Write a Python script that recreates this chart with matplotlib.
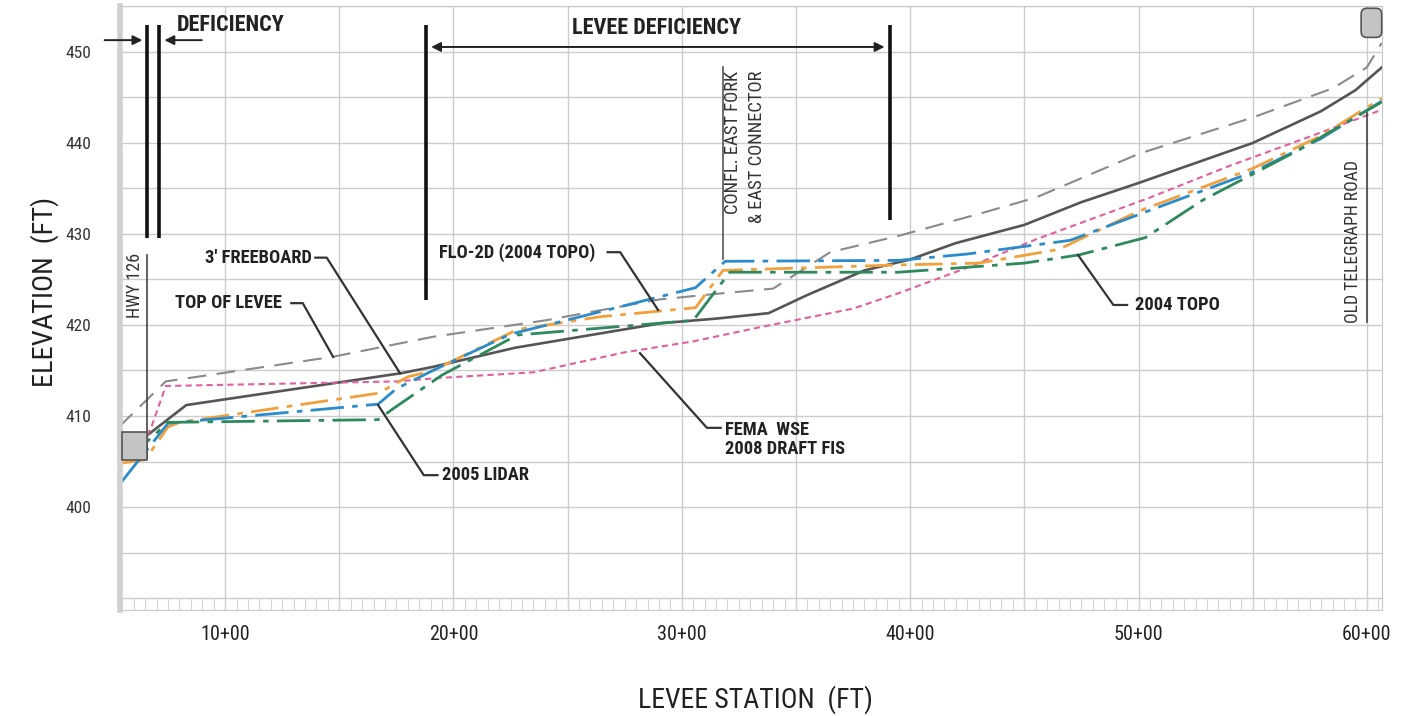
import matplotlib
matplotlib.use('Agg')
import matplotlib.pyplot as plt
import matplotlib.patches as mpatches
import numpy as np

plt.rcParams['font.family'] = ['Roboto Condensed', 'DejaVu Sans']

# stations are in hundreds of feet (10 -> 10+00), elevations in feet
tol_sta = [5.35, 7.4, 14.7, 19.1, 24.0, 29.0, 31.0, 34.0, 36.5, 39.5, 43.0, 45.5, 50.0, 55.0, 58.5, 60.0, 60.65]
tol_elev = [408.8, 413.8, 416.5, 418.7, 420.5, 422.8, 423.3, 424.0, 428.0, 429.8, 432.2, 434.0, 438.8, 442.8, 446.0, 448.3, 451.0]

fema_sta = [5.4, 6.5, 8.3, 17.7, 19.1, 22.7, 29.1, 31.5, 33.8, 35.5, 38.0, 40.0, 42.0, 45.0, 47.5, 50.0, 55.0, 58.0, 59.5, 60.65]
fema_elev = [405.5, 407.7, 411.2, 414.7, 415.4, 417.5, 420.2, 420.7, 421.3, 423.3, 426.0, 427.2, 429.0, 431.0, 433.5, 435.6, 440.0, 443.5, 445.8, 448.3]

fb_sta = [6.4, 6.8, 7.4, 17.5, 19.5, 23.5, 27.5, 30.5, 33.5, 37.5, 39.5, 42.5, 45.5, 50.5, 54.0, 57.5, 60.6]
fb_elev = [406.8, 409.0, 413.3, 413.8, 414.2, 414.8, 417.0, 418.2, 419.8, 421.8, 423.5, 426.3, 429.4, 434.0, 437.5, 440.7, 443.6]

flo_sta = [5.4, 6.5, 7.5, 8.0, 16.7, 18.0, 19.1, 22.8, 26.4, 30.6, 31.8, 39.5, 43.0, 46.5, 50.0, 55.0, 58.0, 60.65]
flo_elev = [404.8, 405.2, 408.8, 409.3, 412.5, 414.3, 415.0, 419.5, 420.9, 421.9, 426.0, 426.6, 426.8, 428.3, 432.5, 437.2, 440.8, 444.9]

lidar_sta = [5.35, 7.5, 16.7, 17.5, 19.1, 22.5, 26.5, 30.6, 31.9, 39.5, 42.5, 45.5, 47.0, 50.5, 55.0, 58.0, 60.65]
lidar_elev = [402.4, 409.2, 411.3, 413.0, 415.0, 419.0, 421.5, 424.1, 427.0, 427.1, 427.8, 428.8, 429.3, 432.6, 436.8, 440.5, 444.6]

topo_sta = [5.4, 6.5, 7.5, 16.7, 17.3, 19.5, 22.8, 30.5, 32.1, 39.5, 45.0, 47.4, 50.3, 52.8, 57.0, 60.65]
topo_elev = [406.0, 407.0, 409.3, 409.6, 410.7, 414.5, 418.9, 420.5, 425.8, 425.8, 426.8, 427.7, 429.6, 433.7, 439.2, 444.5]

x_ticks = [10, 20, 30, 40, 50, 60]
x_labels = ['10+00', '20+00', '30+00', '40+00', '50+00', '60+00']
y_ticks = [400, 410, 420, 430, 440, 450]

fig = plt.figure(figsize=(14.21, 7.16), dpi=100)
ax = fig.add_axes([0.0845, 0.148, 0.888, 0.8436])
ax.set_xlim(5.40, 60.66)
ax.set_ylim(388.68, 455.05)

ax.set_xticks(x_ticks)
ax.set_xticklabels(x_labels, fontsize=14.5, color='#222222')
ax.set_xticks(np.arange(15, 60, 10), minor=True)
ax.set_yticks(y_ticks)
ax.set_yticklabels([str(v) for v in y_ticks], fontsize=12.5, color='#333333')
ax.set_yticks(np.arange(390, 456, 5), minor=True)
ax.tick_params(which='both', length=0)
ax.tick_params(axis='y', pad=21)
ax.tick_params(axis='x', pad=11)
ax.grid(which='both', color='#cccccc', lw=1)
ax.set_axisbelow(True)
for side in ['top', 'right', 'bottom']:
    ax.spines[side].set_color('#c8c8c8')
ax.spines['left'].set_color('#d0d0d0')
ax.spines['left'].set_linewidth(4)

# ruler strip along the bottom
ax.vlines(np.arange(5.5, 60.7, 0.5), 388.68, 390, color='#d4d4d4', lw=0.8)

# series
ax.plot(tol_sta, tol_elev, color='#8a8a8a', lw=1.5, dashes=(9, 5))
ax.plot(fema_sta, fema_elev, color='#555555', lw=1.9)
ax.plot(fb_sta, fb_elev, color='#e25f9f', lw=1.5, dashes=(3, 2))
ax.plot(flo_sta, flo_elev, color='#f2a03c', lw=2.0, dashes=(10, 3, 2, 3))
ax.plot(lidar_sta, lidar_elev, color='#2b8ccc', lw=2.0, dashes=(12, 3, 2, 3))
ax.plot(topo_sta, topo_elev, color='#2e8a5c', lw=2.0, dashes=(12, 3, 2, 3))

# structures at the ends
ax.add_patch(mpatches.Rectangle((5.49, 405.2), 1.09, 3.0, facecolor='#c4c4c4',
                                edgecolor='#555555', lw=1.2, zorder=3))
ax.add_patch(mpatches.FancyBboxPatch((59.75, 451.6), 0.9, 3.2,
                                     boxstyle='round,pad=0,rounding_size=0.25',
                                     mutation_aspect=2.5, facecolor='#c4c4c4',
                                     edgecolor='#555555', lw=1.2, zorder=3, clip_on=False))

# deficiency markers
for s, top, bot in [(6.6, 453.0, 429.6), (7.1, 453.0, 429.6), (18.8, 453.0, 422.8), (39.1, 453.0, 431.5)]:
    ax.plot([s, s], [bot, top], color='#111111', lw=2.6, solid_capstyle='butt', clip_on=False)

ax.annotate('', xy=(6.5, 451.3), xytext=(4.6, 451.3), annotation_clip=False,
            arrowprops=dict(arrowstyle='-|>', color='#222222', lw=1.4, mutation_scale=14))
ax.annotate('', xy=(7.22, 451.3), xytext=(9.1, 451.3), annotation_clip=False,
            arrowprops=dict(arrowstyle='-|>', color='#222222', lw=1.4, mutation_scale=14))
ax.text(7.9, 453.0, 'DEFICIENCY', fontsize=16, fontweight='bold', color='#222222',
        ha='left', va='center')
ax.annotate('', xy=(39.0, 450.55), xytext=(18.9, 450.55), annotation_clip=False,
            arrowprops=dict(arrowstyle='<|-|>', color='#222222', lw=1.4, mutation_scale=14))
ax.text(28.9, 452.6, 'LEVEE DEFICIENCY', fontsize=16, fontweight='bold', color='#222222',
        ha='center', va='center')

# callouts: text, anchor, alignment, leader points
callouts = [
    ("3' FREEBOARD", (13.8, 427.4), 'right', [(13.95, 427.4), (14.45, 427.4), (17.66, 414.7)]),
    ('TOP OF LEVEE', (12.5, 422.4), 'right', [(12.9, 422.4), (13.4, 422.4), (14.73, 416.5)]),
    ('2005 LIDAR', (19.5, 403.5), 'left', [(19.3, 403.5), (18.7, 403.5), (16.7, 411.2)]),
    ('FLO-2D (2004 TOPO)', (26.2, 428.0), 'right', [(26.75, 428.0), (27.3, 428.0), (28.96, 421.65)]),
    ('FEMA  WSE\n2008 DRAFT FIS', (31.9, 407.4), 'left', [(31.7, 408.7), (31.1, 408.7), (28.17, 416.9)]),
    ('2004 TOPO', (49.85, 422.2), 'left', [(49.5, 422.2), (48.9, 422.2), (47.35, 427.7)]),
]
for label, (tx, ty), ha, pts in callouts:
    ax.text(tx, ty, label, fontsize=13.3, fontweight='bold', color='#222222', ha=ha, va='center',
            linespacing=1.1)
    ax.plot([p[0] for p in pts], [p[1] for p in pts], color='#333333', lw=1.6)

# vertical location notes
ax.text(6.06, 424.3, 'HWY 126', rotation=90, fontsize=13, color='#333333', ha='center', va='center')
ax.plot([6.58, 6.58], [405.4, 427.7], color='#444444', lw=1.2)
ax.text(32.25, 447.9, 'CONFL. EAST FORK', rotation=90, fontsize=13.4, color='#333333',
        ha='right', va='center', rotation_mode='anchor')
ax.text(33.3, 447.9, '& EAST CONNECTOR', rotation=90, fontsize=13.4, color='#333333',
        ha='right', va='center', rotation_mode='anchor')
ax.plot([31.8, 31.8], [427.2, 448.4], color='#555555', lw=1.2)
ax.text(59.4, 429.2, 'OLD TELEGRAPH ROAD', rotation=90, fontsize=12.7, color='#333333',
        ha='center', va='center')
ax.plot([60.0, 60.0], [420.3, 443.3], color='#444444', lw=1.2)

fig.text(45 / 1421, 1 - 292 / 716, 'ELEVATION  (FT)', rotation=90, fontsize=20.5,
         color='#222222', ha='center', va='center')
fig.text(755 / 1421, 1 - 700 / 716, 'LEVEE STATION  (FT)', fontsize=20,
         color='#222222', ha='center', va='center')

fig.savefig('out.png', dpi=100)
